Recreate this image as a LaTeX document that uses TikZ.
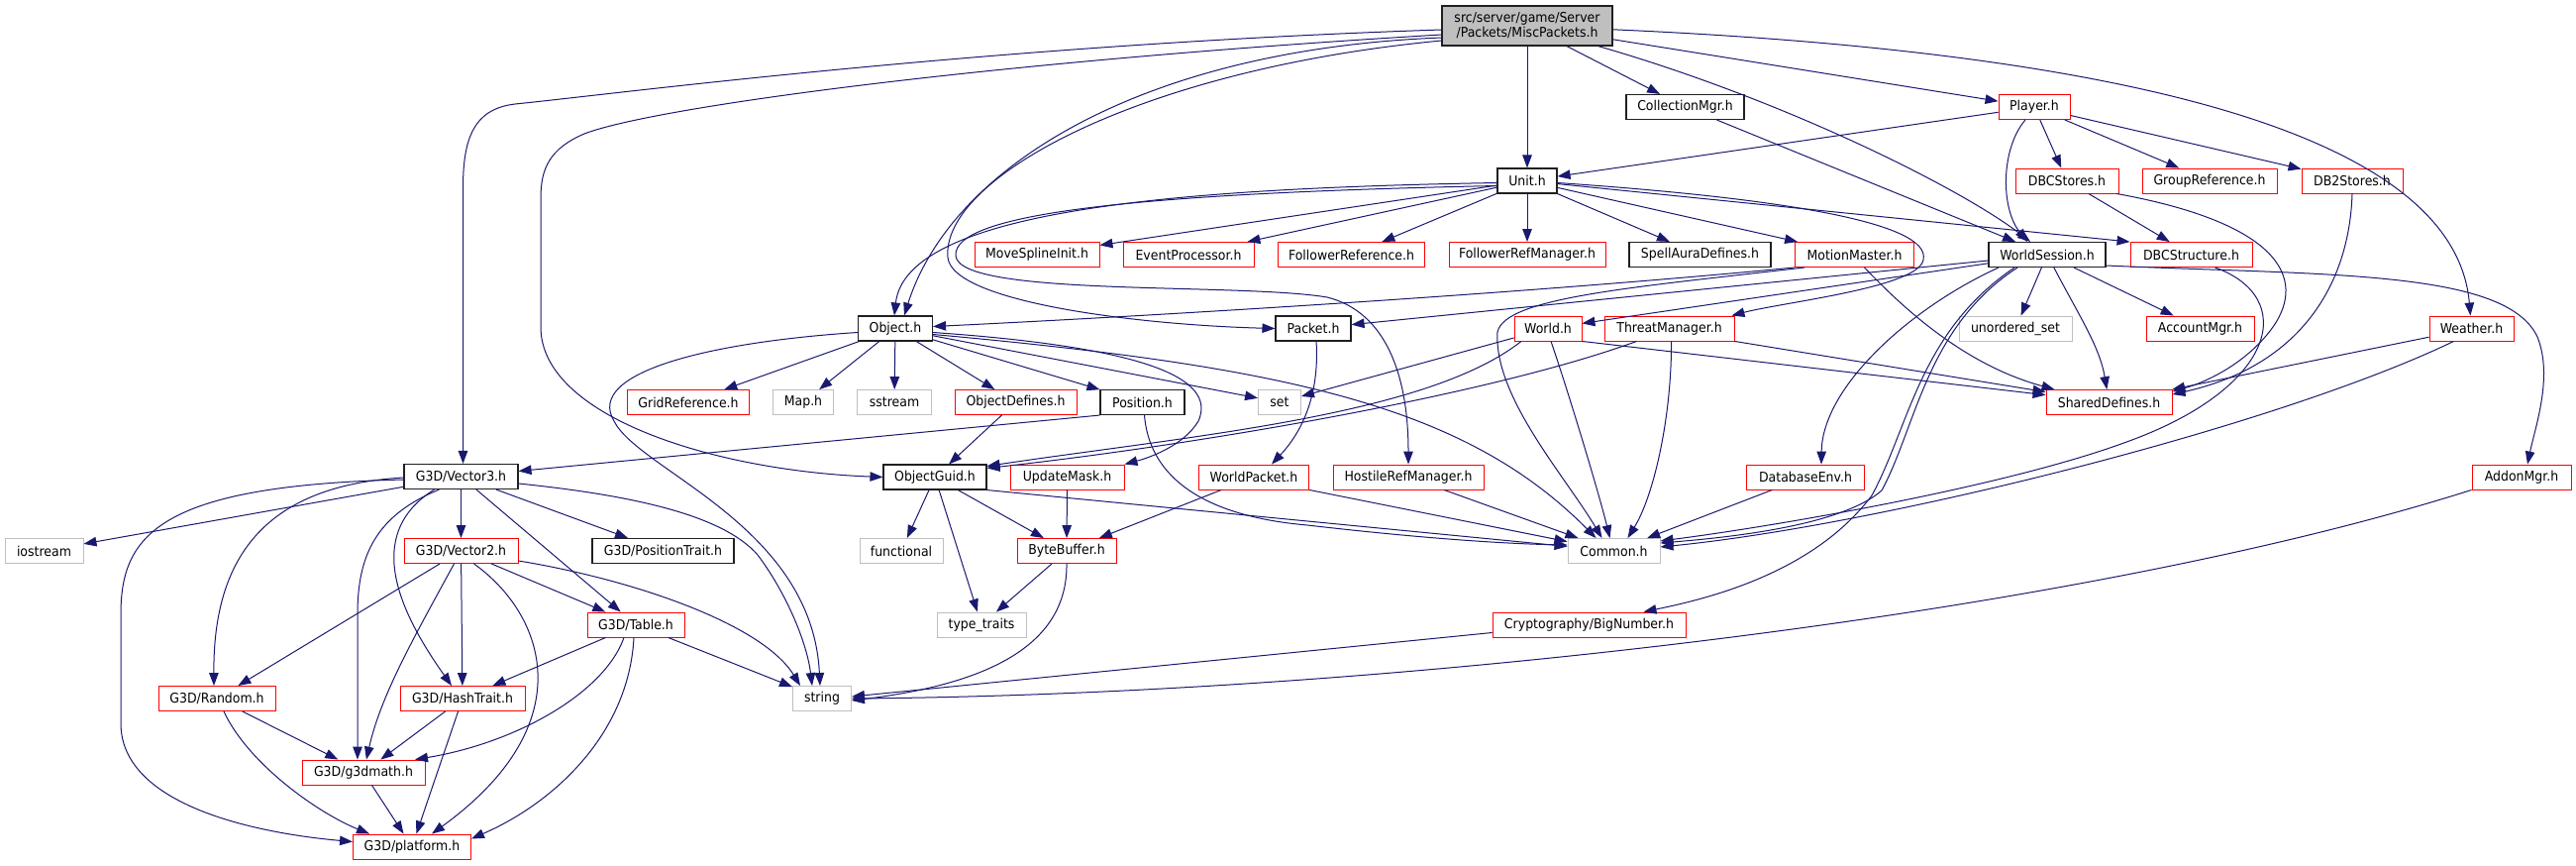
\documentclass[tikz,border=0pt]{standalone}
\usepackage{fontspec}
\setmainfont{DejaVu Sans}[FakeStretch=0.92]
\usetikzlibrary{arrows.meta}
\definecolor{edgecol}{HTML}{191970}
\definecolor{extgray}{HTML}{BFBFBF}
\definecolor{redcol}{HTML}{FF0000}
\definecolor{docborder}{HTML}{202020}
\newcommand{\nodefont}{\fontsize{13.6}{15}\selectfont}
\newcommand{\mynode}[6]{\node[#1, minimum width=#5pt] (#2) at (#3,#4) {#6};}
\begin{document}
\begin{tikzpicture}[x=1pt,y=-1pt,
  nbox/.style={draw, rectangle, inner sep=0pt, minimum height=25pt, line width=0.9pt, fill=white, font=\nodefont, text=black},
  docbox/.style={nbox, draw=docborder, line width=1.1pt},
  redbox/.style={nbox, draw=redcol},
  extbox/.style={nbox, draw=extgray},
  rootbox/.style={nbox, draw=docborder, line width=1.1pt, fill=extgray, minimum height=40pt, align=center},
  conn/.style={draw=edgecol, line width=1pt, -{Triangle[length=13pt,width=9.5pt]}}
]
\useasboundingbox (0,0) rectangle (2601,873);
\fill[white] (0,0) rectangle (2601,873);

\mynode{rootbox}{title}{1542}{26}{172}{src/server/game/Server\\/Packets/MiscPackets.h}
\mynode{docbox}{coll}{1701.5}{108}{119}{CollectionMgr.h}
\mynode{redbox}{player}{2054}{108}{72}{Player.h}
\mynode{docbox}{unit}{1542}{182.5}{60}{Unit.h}
\mynode{redbox}{dbcst}{2087}{182.5}{104}{DBCStores.h}
\mynode{redbox}{groupref}{2231}{182.5}{136}{GroupReference.h}
\mynode{redbox}{dbtwo}{2375}{182.5}{102}{DB2Stores.h}
\mynode{redbox}{movespl}{1047}{257}{126}{MoveSplineInit.h}
\mynode{redbox}{eventp}{1200}{257}{132}{EventProcessor.h}
\mynode{redbox}{follref}{1364.5}{257}{148}{FollowerReference.h}
\mynode{redbox}{follrm}{1542}{257}{158}{FollowerRefManager.h}
\mynode{docbox}{spellaura}{1716.5}{257}{143}{SpellAuraDefines.h}
\mynode{redbox}{motion}{1872.5}{257}{120}{MotionMaster.h}
\mynode{docbox}{wsess}{2067}{257}{118}{WorldSession.h}
\mynode{redbox}{dbcstruct}{2212.5}{257}{123}{DBCStructure.h}
\mynode{docbox}{object}{904}{331.5}{75}{Object.h}
\mynode{docbox}{packet}{1326}{331.5}{76}{Packet.h}
\mynode{redbox}{world}{1563}{331.5}{68}{World.h}
\mynode{redbox}{threat}{1685.5}{331.5}{131}{ThreatManager.h}
\mynode{extbox}{unord}{2035}{331.5}{114}{unordered\_set}
\mynode{redbox}{account}{2221.5}{331.5}{109}{AccountMgr.h}
\mynode{redbox}{weather}{2495.5}{331.5}{85}{Weather.h}
\mynode{redbox}{gridref}{695}{406}{123}{GridReference.h}
\mynode{extbox}{mapn}{811}{406}{61}{Map.h}
\mynode{extbox}{sstream}{903}{406}{75}{sstream}
\mynode{redbox}{objdef}{1025.5}{406}{123}{ObjectDefines.h}
\mynode{docbox}{position}{1153.5}{406}{85}{Position.h}
\mynode{extbox}{setn}{1292}{406}{43}{set}
\mynode{redbox}{shared}{2129.5}{406}{127}{SharedDefines.h}
\mynode{docbox}{vecthree}{465.5}{481}{115}{G3D/Vector3.h}
\mynode{docbox}{objguid}{944}{481.5}{104}{ObjectGuid.h}
\mynode{redbox}{updmask}{1077.5}{481.5}{115}{UpdateMask.h}
\mynode{redbox}{wpacket}{1266}{481.5}{111}{WorldPacket.h}
\mynode{redbox}{hostile}{1422}{481.5}{152}{HostileRefManager.h}
\mynode{redbox}{dbenv}{1823}{481.5}{119}{DatabaseEnv.h}
\mynode{redbox}{addon}{2546}{481.5}{100}{AddonMgr.h}
\mynode{extbox}{iostream}{44.5}{556}{79}{iostream}
\mynode{redbox}{vectwo}{465.5}{556}{115}{G3D/Vector2.h}
\mynode{docbox}{postrait}{669.5}{556}{143}{G3D/PositionTrait.h}
\mynode{extbox}{functional}{910}{556}{84}{functional}
\mynode{redbox}{bytebuf}{1077}{556}{100}{ByteBuffer.h}
\mynode{extbox}{common}{1629.5}{556}{93}{Common.h}
\mynode{redbox}{table}{642}{630.5}{98}{G3D/Table.h}
\mynode{extbox}{typetr}{991}{630.5}{90}{type\_traits}
\mynode{redbox}{crypto}{1604.5}{630.5}{195}{Cryptography/BigNumber.h}
\mynode{redbox}{random}{219}{705}{118}{G3D/Random.h}
\mynode{redbox}{hash}{467}{705}{126}{G3D/HashTrait.h}
\mynode{extbox}{stringn}{830}{705}{59}{string}
\mynode{redbox}{gmath}{367}{779.5}{124}{G3D/g3dmath.h}
\mynode{redbox}{platform}{416}{854.5}{119}{G3D/platform.h}

% root
\draw[conn] ([yshift=-4pt]title.west) .. controls (1000,45) and (620,95) .. (520,105) .. controls (478,110) and (467.5,140) .. (467.5,190) -- ([xshift=2pt]vecthree.north);
\draw[conn] ([yshift=-9pt]title.west) .. controls (1000,62) and (660,108) .. (590,135) .. controls (555,150) and (546,170) .. (546,200) -- (546,330) .. controls (546,420) and (720,475) .. (objguid.west);
\draw[conn] ([yshift=-12pt]title.west) .. controls (1150,50) and (960,170) .. ([xshift=9pt]object.north);
\draw[conn] ([yshift=-15pt]title.west) .. controls (1150,70) and (950,180) .. (957,260) .. controls (962,305) and (1150,328) .. (packet.west);
\draw[conn] (title) -- (unit);
\draw[conn] (title) -- (coll);
\draw[conn] (title) -- (player);
\draw[conn] (title) .. controls (1800,100) and (1980,190) .. (wsess);
\draw[conn] (title) .. controls (2200,55) and (2480,150) .. (weather);
% collection / player
\draw[conn] (coll) -- (wsess);
\draw[conn] (player) -- (unit);
\draw[conn] ([xshift=-9pt]player.south) .. controls (2020,150) and (2020,210) .. ([xshift=-20pt]wsess.north);
\draw[conn] (player) -- (dbcst);
\draw[conn] (player) -- (groupref);
\draw[conn] (player) -- (dbtwo);
% unit
\draw[conn] ([yshift=-2pt]unit.west) .. controls (1200,190) and (915,210) .. ([xshift=-1pt]object.north);
\draw[conn] ([yshift=-5pt]unit.west) .. controls (1150,195) and (962,215) .. (965,258) .. controls (968,300) and (1250,285) .. (1340,300) .. controls (1400,315) and (1422,380) .. (hostile.north);
\draw[conn] (unit) -- (movespl);
\draw[conn] (unit) -- (eventp);
\draw[conn] (unit) -- (follref);
\draw[conn] (unit) -- (follrm);
\draw[conn] (unit) -- (spellaura);
\draw[conn] (unit) -- (motion);
\draw[conn] (unit) -- (dbcstruct.north west);
\draw[conn] ([yshift=-2pt]unit.east) .. controls (1800,200) and (1950,225) .. (1942,262) .. controls (1938,290) and (1800,305) .. ([xshift=-3pt]threat.north east);
% dbc
\draw[conn] (dbcst) -- (dbcstruct);
\draw[conn] ([xshift=50pt]dbcst.south) .. controls (2300,225) and (2330,280) .. (2295,330) .. controls (2270,365) and (2230,385) .. ([yshift=-2pt]shared.north east);
\draw[conn] (dbtwo.south) .. controls (2372,290) and (2320,370) .. ([yshift=-5pt]shared.north east);
% world session
\draw[conn] (wsess) -- (packet);
\draw[conn] (wsess) -- (world);
\draw[conn] ([xshift=-49pt]wsess.south) .. controls (1930,310) and (1840,390) .. ([xshift=16pt]dbenv.north);
\draw[conn] ([xshift=-30pt]wsess.south) .. controls (1945,330) and (1935,430) .. (1900,495) .. controls (1860,530) and (1750,542) .. ([yshift=8pt]common.east);
\draw[conn] ([xshift=-33pt]wsess.south) .. controls (1938,335) and (1928,430) .. (1890,500) .. controls (1830,580) and (1720,605) .. ([xshift=55pt]crypto.north);
\draw[conn] (wsess) -- (unord);
\draw[conn] (wsess) .. controls (2100,320) and (2120,350) .. (shared);
\draw[conn] (wsess) -- (account);
\draw[conn] ([yshift=-11pt]wsess.east) .. controls (2350,278) and (2530,272) .. (2562,340) .. controls (2578,380) and (2560,430) .. ([xshift=6pt]addon.north);
% motion master
\draw[conn] (motion.south west) .. controls (1500,300) and (1100,322) .. ([yshift=2pt]object.east);
\draw[conn] ([xshift=10pt]motion.south west) .. controls (1650,290) and (1520,300) .. (1512,335) .. controls (1508,400) and (1580,480) .. ([xshift=-12pt]common.north);
\draw[conn] ([xshift=10pt]motion.south) .. controls (1930,320) and (1990,370) .. ([xshift=-55pt]shared.north);
% world
\draw[conn] (world) -- (setn);
\draw[conn] ([xshift=-27pt]world.south) .. controls (1440,420) and (1200,440) .. ([yshift=-2pt]objguid.north east);
\draw[conn] ([xshift=3pt]world.south) .. controls (1585,400) and (1615,500) .. ([xshift=-4pt]common.north);
\draw[conn] (world.south east) -- (shared);
% threat manager
\draw[conn] ([xshift=-33pt]threat.south) .. controls (1500,400) and (1200,450) .. ([yshift=-4pt]objguid.north east);
\draw[conn] ([xshift=2pt]threat.south) .. controls (1688,420) and (1670,500) .. ([xshift=14pt]common.north);
\draw[conn] (threat.south east) -- (shared);
% packet
\draw[conn] ([xshift=3pt]packet.south) .. controls (1332,390) and (1320,430) .. ([xshift=18pt]wpacket.north);
% object
\draw[conn] (object) -- (gridref);
\draw[conn] (object) -- (mapn);
\draw[conn] (object) -- (sstream);
\draw[conn] (object) -- (objdef);
\draw[conn] (object) -- (position);
\draw[conn] (object) -- (setn);
\draw[conn] ([yshift=-6pt]object.east) .. controls (1300,370) and (1480,410) .. ([xshift=-18pt]common.north);
\draw[conn] ([yshift=-4pt]object.east) .. controls (1150,350) and (1230,380) .. (1210,425) .. controls (1195,450) and (1160,462) .. (updmask.north east);
\draw[conn] ([yshift=-4pt]object.west) .. controls (720,345) and (590,375) .. (620,425) .. controls (645,475) and (820,530) .. ([xshift=-2pt]stringn.north);
% position / object defines
\draw[conn] (position.south west) -- (vecthree);
\draw[conn] ([xshift=2pt]position.south) .. controls (1160,475) and (1205,520) .. (1320,530) .. controls (1450,545) and (1530,549) .. ([yshift=6pt]common.west);
\draw[conn] (objdef) -- (objguid);
% object guid and rank 6
\draw[conn] (objguid) -- (functional);
\draw[conn] (objguid) -- (typetr);
\draw[conn] (objguid) -- (bytebuf);
\draw[conn] (objguid.south east) -- (common);
\draw[conn] (updmask) -- (bytebuf);
\draw[conn] (wpacket) -- (bytebuf);
\draw[conn] (wpacket.south east) -- (common);
\draw[conn] (hostile) -- (common);
\draw[conn] (dbenv) -- (common);
\draw[conn] (bytebuf) -- (typetr);
\draw[conn] (bytebuf.south) .. controls (1078,650) and (1000,690) .. ([yshift=-2pt]stringn.east);
\draw[conn] ([yshift=-8pt]crypto.west) -- ([yshift=2pt]stringn.east);
\draw[conn] (addon.south west) .. controls (2100,620) and (1400,700) .. (stringn.east);
\draw[conn] ([xshift=-18pt]weather.south) .. controls (2300,430) and (1900,530) .. ([yshift=4pt]common.east);
\draw[conn] (weather) -- (shared);
\draw[conn] ([xshift=24pt]dbcstruct.south) .. controls (2320,300) and (2300,390) .. (2150,445) .. controls (2030,490) and (1800,530) .. ([yshift=10pt]common.east);
% vector3
\draw[conn] (vecthree) -- (iostream);
\draw[conn] ([yshift=-1pt]vecthree.west) .. controls (270,490) and (215,560) .. ([xshift=-3pt]random.north);
\draw[conn] ([yshift=-3pt]vecthree.west) .. controls (160,490) and (122,540) .. (122,620) -- (122,730) .. controls (122,810) and (250,840) .. ([yshift=5pt]platform.west);
\draw[conn] ([xshift=-22pt]vecthree.south) .. controls (380,520) and (361,560) .. (361,620) -- ([xshift=-6pt]gmath.north);
\draw[conn] ([xshift=-27pt]vecthree.south) .. controls (365,540) and (405,620) .. ([xshift=-11pt]hash.north);
\draw[conn] (vecthree) -- (vectwo);
\draw[conn] (vecthree) -- (table);
\draw[conn] (vecthree) -- (postrait);
\draw[conn] ([yshift=-7pt]vecthree.east) .. controls (640,500) and (730,520) .. (765,560) .. controls (795,600) and (815,650) .. ([xshift=-10pt]stringn.north);
% vector2
\draw[conn] (vectwo) -- (random);
\draw[conn] (vectwo) .. controls (420,640) and (385,700) .. (gmath);
\draw[conn] (vectwo) -- (hash);
\draw[conn] ([xshift=13pt]vectwo.south) .. controls (550,620) and (590,730) .. ([xshift=20pt]platform.north);
\draw[conn] (vectwo) -- (table);
\draw[conn] ([yshift=-10pt]vectwo.east) .. controls (640,585) and (770,630) .. ([xshift=-22pt]stringn.north);
% table
\draw[conn] (table) -- (hash);
\draw[conn] ([xshift=-12pt]table.south) .. controls (610,700) and (520,750) .. ([xshift=52pt]gmath.north);
\draw[conn] ([xshift=-2pt]table.south) .. controls (635,740) and (560,810) .. ([yshift=8pt]platform.east);
\draw[conn] (table) -- (stringn);
% random, hash, g3dmath
\draw[conn] (random) -- (gmath);
\draw[conn] ([xshift=7pt]random.south) .. controls (250,770) and (320,820) .. ([xshift=-43pt]platform.north);
\draw[conn] (hash) -- (gmath);
\draw[conn] (hash) -- (platform);
\draw[conn] (gmath) -- (platform);
\end{tikzpicture}
\end{document}
